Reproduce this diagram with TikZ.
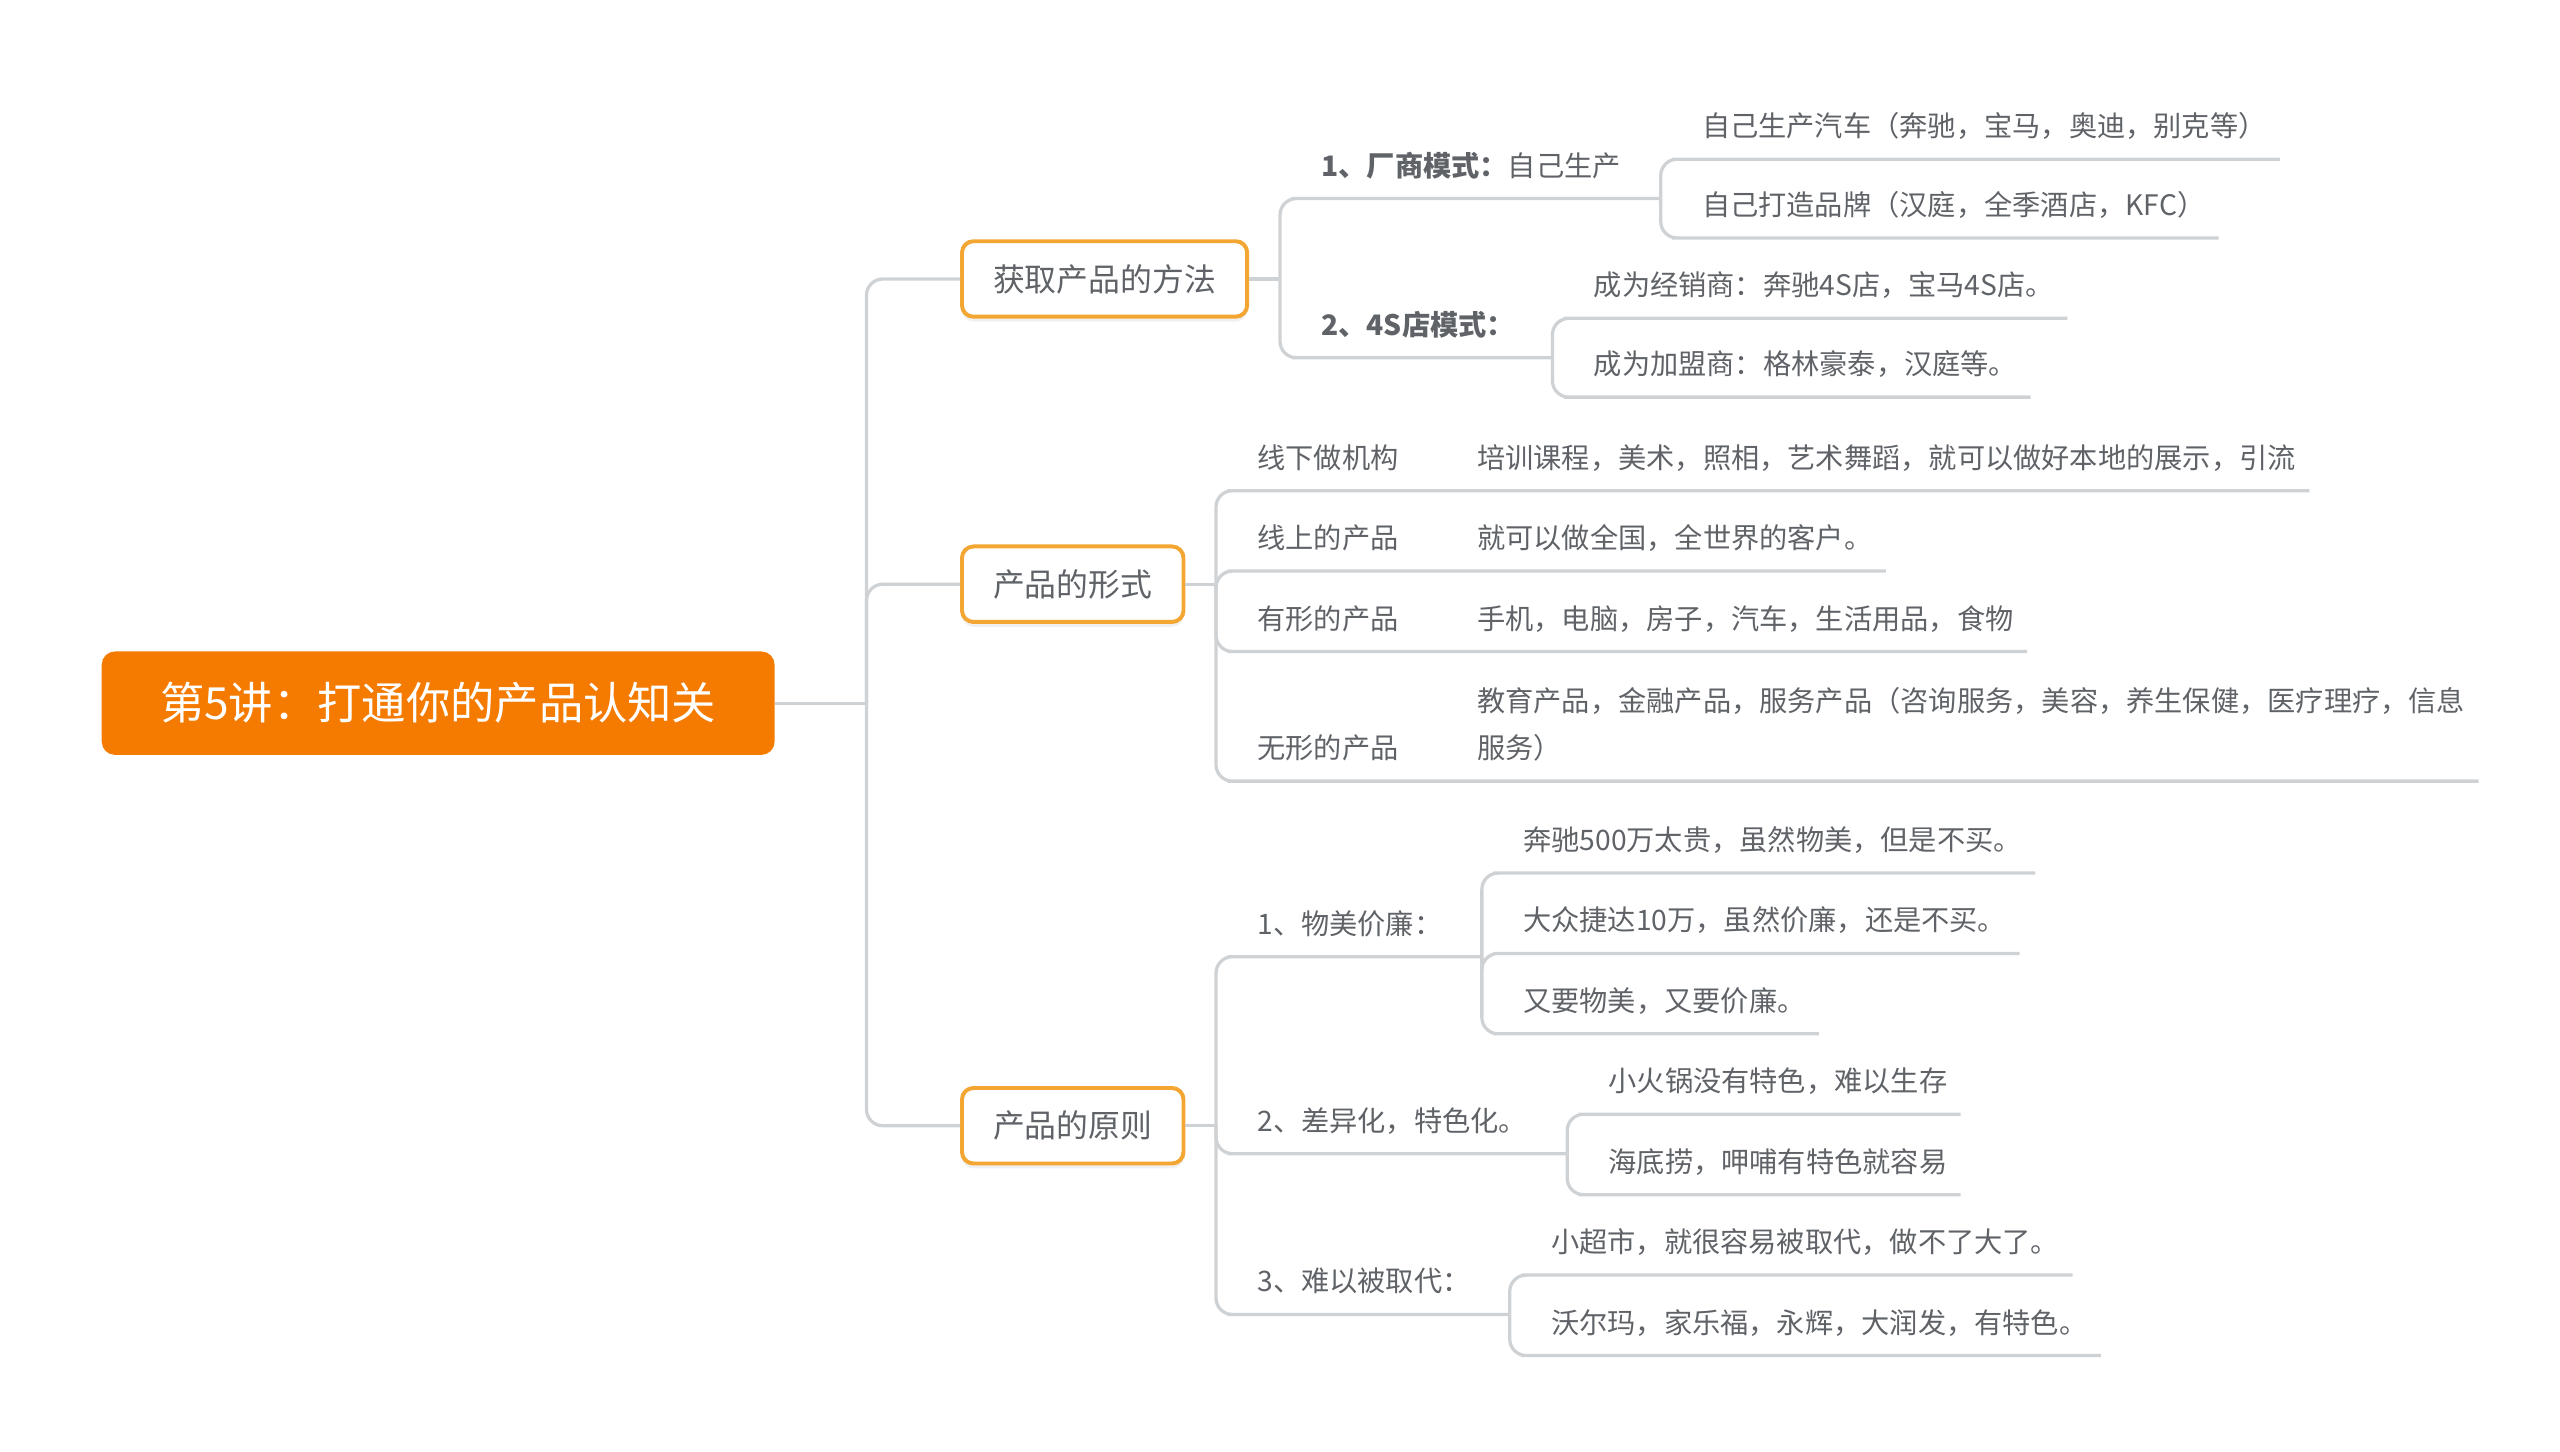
\documentclass[tikz,border=0pt]{standalone}
\usepackage{fontspec}
\setmainfont{Noto Sans CJK SC}
\usetikzlibrary{shadows}
\definecolor{RootOrange}{HTML}{F57A00}
\definecolor{BoxOrange}{HTML}{F4A633}
\definecolor{LineGray}{HTML}{CFD2D4}
\definecolor{TextGray}{HTML}{5F6368}

\begin{document}
\begin{tikzpicture}[x=1pt, y=-1pt,
  every node/.style={text=TextGray},
  root/.style={fill=RootOrange, rounded corners=8pt, text=white,
    minimum width=410pt, minimum height=63pt, inner sep=0pt,
    font=\fontsize{27}{32}\selectfont},
  topic/.style={draw=BoxOrange, line width=2.4pt, fill=white,
    rounded corners=7pt, minimum height=46pt, inner xsep=19pt,
    font=\fontsize{19.4}{24}\selectfont,
    drop shadow={opacity=0.12, shadow xshift=0pt, shadow yshift=-3pt}},
  leaf/.style={anchor=south west, inner xsep=8pt, inner ysep=9.5pt,
    text depth=4pt, font=\fontsize{17.2}{29}\selectfont},
  link/.style={LineGray, line width=2pt, rounded corners=10pt}]
  \useasboundingbox (0,0) rectangle (1560,884.8);

  \node[root] (Root) at (267,428.5) {第5讲：打通你的产品认知关};
  \node[topic, anchor=west] (Method) at (585,170) {获取产品的方法};
  \node[topic, anchor=west] (Form)   at (585,356) {产品的形式};
  \node[topic, anchor=west] (Rule)   at (585,686) {产品的原则};

  \coordinate (Trunk) at (528,428.5);
  \draw[link] (Root.east) -- (Trunk);
  \foreach \b in {Method,Form,Rule}{%
    \draw[link] (Trunk) |- (\b.west);
  }

  \coordinate (MethodBus) at (780,170);
  \coordinate (MakerBus)  at (1012,121);
  \coordinate (DealerBus) at (946,218);
  \draw[link] (Method.east) -- (MethodBus);
  \node[leaf] (Maker)  at (797,121) {\textbf{1、厂商模式：}自己生产};
  \node[leaf] (Dealer) at (797,218) {\textbf{2、4S店模式：}};
  \draw[link] (MethodBus) |- (Maker.south west) -- (MakerBus);
  \draw[link] (MethodBus) |- (Dealer.south west) -- (DealerBus);

  \node[leaf] (Car)   at (1029,97)  {自己生产汽车（奔驰，宝马，奥迪，别克等）};
  \node[leaf] (Brand) at (1029,145) {自己打造品牌（汉庭，全季酒店，KFC）};
  \node[leaf] (Agent) at (963,194)  {成为经销商：奔驰4S店，宝马4S店。};
  \node[leaf] (Chain) at (963,242)  {成为加盟商：格林豪泰，汉庭等。};
  \foreach \bus/\n in {MakerBus/Car,MakerBus/Brand,DealerBus/Agent,DealerBus/Chain}{%
    \draw[link] (\bus) |- (\n.south west) -- (\n.south east);
  }

  \coordinate (FormBus) at (741,356);
  \draw[link] (Form.east) -- (FormBus);
  \foreach \y/\lab/\txt [count=\i] in {%
    299/线下做机构/培训课程，美术，照相，艺术舞蹈，就可以做好本地的展示，引流,
    348/线上的产品/就可以做全国，全世界的客户。,
    397/有形的产品/手机，电脑，房子，汽车，生活用品，食物}{%
    \node[leaf] (Kind\i) at (758,\y) {\makebox[134pt][l]{\lab}\txt};
    \draw[link] (FormBus) |- (Kind\i.south west) -- (Kind\i.south east);
  }
  \node[leaf, align=left] (Kind4) at (758,476)
    {\hspace*{134pt}教育产品，金融产品，服务产品（咨询服务，美容，养生保健，医疗理疗，信息\\
     \makebox[134pt][l]{无形的产品}服务）};
  \draw[link] (FormBus) |- (Kind4.south west) -- (Kind4.south east);

  \coordinate (RuleBus)  at (741,686);
  \coordinate (ValueBus) at (903,583);
  \coordinate (NicheBus) at (955,703);
  \coordinate (MoatBus)  at (920,801);
  \draw[link] (Rule.east) -- (RuleBus);
  \node[leaf] (Value) at (758,583) {1、物美价廉：};
  \node[leaf] (Niche) at (758,703) {2、差异化，特色化。};
  \node[leaf] (Moat)  at (758,801) {3、难以被取代：};
  \foreach \n/\bus in {Value/ValueBus,Niche/NicheBus,Moat/MoatBus}{%
    \draw[link] (RuleBus) |- (\n.south west) -- (\bus);
  }

  \node[leaf] (Benz)  at (920,532) {奔驰500万太贵，虽然物美，但是不买。};
  \node[leaf] (Jetta) at (920,581) {大众捷达10万，虽然价廉，还是不买。};
  \node[leaf] (Both)  at (920,630) {又要物美，又要价廉。};
  \node[leaf] (Pot)   at (972,679) {小火锅没有特色，难以生存};
  \node[leaf] (Haidi) at (972,728) {海底捞，呷哺有特色就容易};
  \node[leaf] (Shop)  at (937,777) {小超市，就很容易被取代，做不了大了。};
  \node[leaf] (Mart)  at (937,826) {沃尔玛，家乐福，永辉，大润发，有特色。};
  \foreach \bus/\n in {ValueBus/Benz,ValueBus/Jetta,ValueBus/Both,NicheBus/Pot,
    NicheBus/Haidi,MoatBus/Shop,MoatBus/Mart}{%
    \draw[link] (\bus) |- (\n.south west) -- (\n.south east);
  }
\end{tikzpicture}
\end{document}
